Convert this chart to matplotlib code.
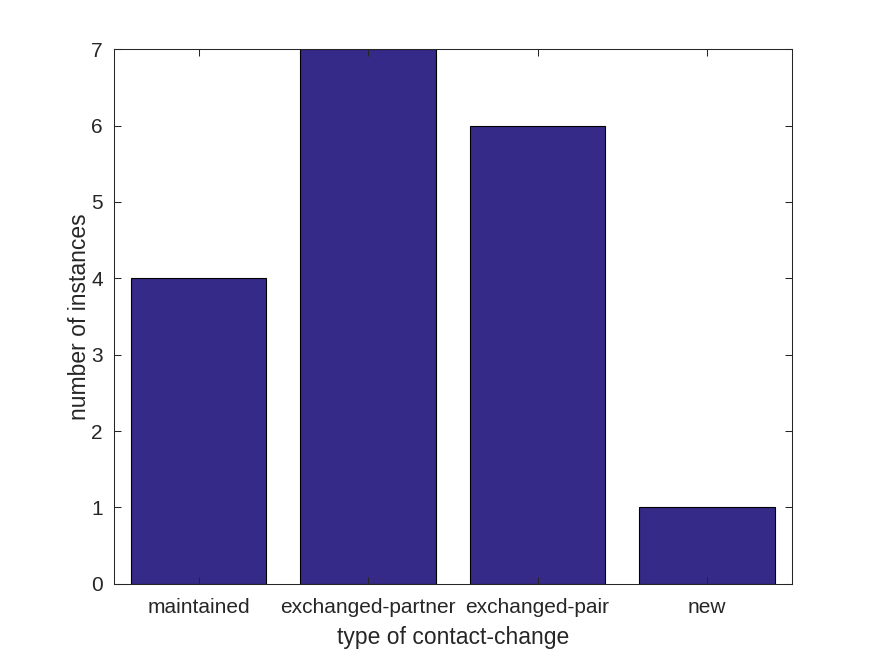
import matplotlib
matplotlib.use("Agg")
import matplotlib.pyplot as plt

categories = ["maintained", "exchanged-partner", "exchanged-pair", "new"]
counts = [4, 7, 6, 1]

plt.rcParams['font.family'] = ['Liberation Sans', 'DejaVu Sans']
axc = '#262626'

fig = plt.figure(figsize=(8.75, 6.56), dpi=100)
ax = fig.add_axes([0.13, 0.11, 0.775, 0.815])
x = list(range(1, len(categories) + 1))
ax.bar(x, counts, width=0.8, color='#352A87', edgecolor='black', linewidth=0.8)
ax.set_xlim(0.5, len(categories) + 0.5)
ax.set_ylim(0, 7)
ax.set_xticks(x)
ax.set_xticklabels(categories)
ax.set_yticks(range(0, 8))
for s in ax.spines.values():
    s.set_color(axc)
    s.set_linewidth(0.75)
ax.tick_params(direction='in', length=5, width=0.75, colors=axc, labelsize=15,
               top=True, right=True, labelcolor=axc)
ax.tick_params(axis='x', pad=10)
ax.tick_params(axis='y', pad=8)
ax.set_xlabel("type of contact-change", fontsize=16.5, color=axc, labelpad=7)
ax.set_ylabel("number of instances", fontsize=16.5, color=axc, labelpad=0)
fig.savefig("out.png", dpi=100)
